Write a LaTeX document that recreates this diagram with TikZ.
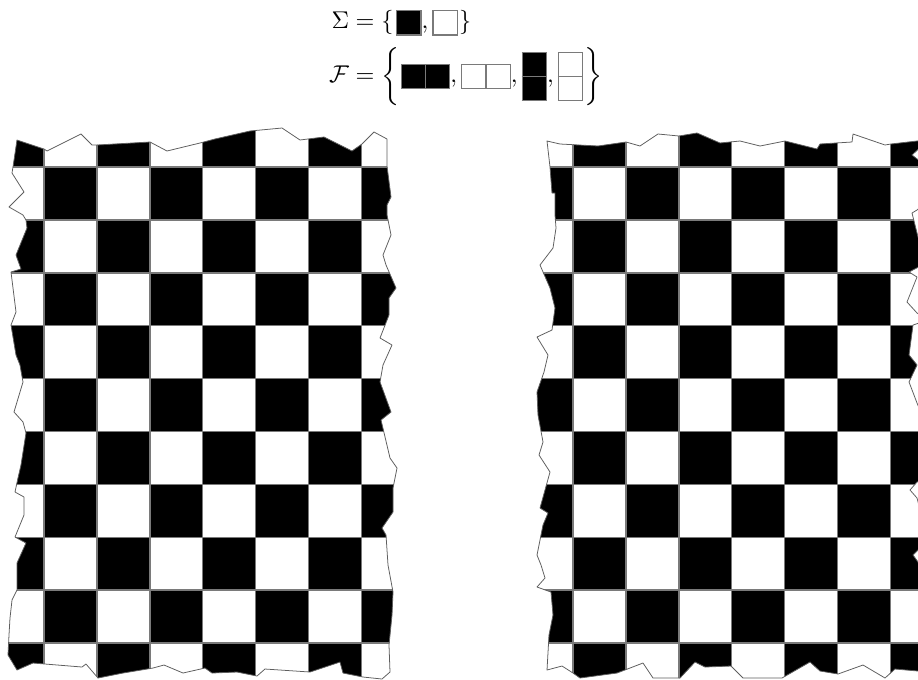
\documentclass[tikz,border=0pt]{standalone}
\usepackage{amsmath}
\usepackage{graphicx}
\usetikzlibrary{calc}
\definecolor{gridGrey}{HTML}{7A7A7A}
\definecolor{edgeGrey}{HTML}{5E5E5E}
\tikzset{
  darkcell/.style = {fill=black},
  gridline/.style = {gridGrey, line width=0.65pt},
  tornedge/.style = {edgeGrey, line width=0.35pt, line join=round},
  formula/.style  = {inner sep=0pt},
}
% one tile of the alphabet, and the two dominoes
\newcommand{\sqbox}[1]{{\setlength{\fboxsep}{0pt}\setlength{\fboxrule}{0.5pt}%
  \fcolorbox{gridGrey}{#1}{\rule{0pt}{9.5pt}\rule{9.5pt}{0pt}}}}
\newcommand{\cellsq}[1]{\vcenter{\hbox{\sqbox{#1}}}}
\newcommand{\cellpairh}[1]{\vcenter{\hbox{\sqbox{#1}\kern-0.5pt\sqbox{#1}}}}
\newcommand{\cellpairv}[1]{\vcenter{\offinterlineskip\hbox{\sqbox{#1}}\kern-0.5pt\hbox{\sqbox{#1}}}}
% torn outlines of the two boards
\newcommand{\leftboard}{(17,140) -- (44,149) -- (47,151) -- (81,134) -- (92,145) -- (97,145) -- (150,142) -- (167,151) -- (200,143) -- (215,139) -- (250,131) -- (282,128) -- (300,140) -- (308,139) -- (324,137) -- (352,151) -- (362,144) -- (374,132) -- (387,139) -- (387,166) -- (391,197) -- (387,205) -- (387,215) -- (391,235) -- (383,255) -- (386,265) -- (396,288) -- (389,298) -- (389,315) -- (380,338) -- (392,345) -- (383,365) -- (380,382) -- (391,412) -- (381,420) -- (390,458) -- (397,468) -- (393,488) -- (393,512) -- (382,528) -- (386,535) -- (388,565) -- (393,592) -- (392,615) -- (389,645) -- (390,672) -- (382,679) -- (363,677) -- (343,673) -- (340,662) -- (310,672) -- (265,669) -- (257,676) -- (237,672) -- (212,673) -- (205,668) -- (183,673) -- (164,665) -- (153,668) -- (123,673) -- (98,678) -- (86,664) -- (82,667) -- (45,664) -- (33,663) -- (17,670) -- (8,655) -- (9,635) -- (10,618) -- (12,600) -- (17,590) -- (17,563) -- (26,543) -- (15,537) -- (24,515) -- (24,497) -- (15,492) -- (18,478) -- (21,465) -- (26,433) -- (23,422) -- (14,412) -- (23,382) -- (20,365) -- (16,355) -- (11,325) -- (16,312) -- (11,272) -- (21,269) -- (16,255) -- (27,228) -- (26,220) -- (23,215) -- (9,207) -- (24,192) -- (12,173) -- (13,167) -- cycle}
\newcommand{\rightboard}{(547,141) -- (560,144) -- (598,146) -- (626,142) -- (640,146) -- (658,134) -- (679,136) -- (697,133) -- (720,143) -- (740,141) -- (760,146) -- (785,141) -- (817,149) -- (820,144) -- (852,142) -- (853,134) -- (885,145) -- (891,144) -- (917,141) -- (928,140) -- (912,155) -- (921,162) -- (928,200) -- (917,210) -- (912,213) -- (918,237) -- (928,262) -- (909,272) -- (917,277) -- (907,302) -- (917,313) -- (928,320) -- (913,325) -- (909,355) -- (917,365) -- (909,382) -- (917,403) -- (928,430) -- (928,478) -- (917,482) -- (910,490) -- (917,498) -- (928,540) -- (913,555) -- (918,562) -- (928,600) -- (928,668) -- (918,671) -- (895,669) -- (885,678) -- (863,665) -- (838,674) -- (820,671) -- (810,662) -- (782,678) -- (743,678) -- (731,666) -- (705,667) -- (695,662) -- (680,678) -- (653,678) -- (643,663) -- (617,673) -- (580,678) -- (573,673) -- (562,666) -- (547,670) -- (549,635) -- (553,615) -- (551,592) -- (537,587) -- (545,578) -- (541,565) -- (537,555) -- (543,525) -- (548,513) -- (540,508) -- (550,472) -- (539,455) -- (543,442) -- (538,415) -- (537,392) -- (544,372) -- (548,355) -- (537,337) -- (552,330) -- (555,308) -- (550,288) -- (540,265) -- (553,248) -- (556,228) -- (555,215) -- (555,193) -- (552,193) -- (550,167) -- cycle}

\begin{document}
\begin{tikzpicture}[x=0.45pt, y=-0.45pt]
  \useasboundingbox (0,0) rectangle (918,679);

  \node[formula] (sets) at (466,57) {\scalebox{1.09}{$\begin{aligned}
      \Sigma &= \{\mkern2mu\cellsq{black}, \cellsq{white}\mkern1mu\}\\
      \mathcal{F} &= \left\{\mkern1mu\cellpairh{black}, \cellpairh{white}, \cellpairv{black}, \cellpairv{white}\mkern1mu\right\}
    \end{aligned}$}};

  % left board : dark where i+j is even
  \begin{scope}
    \clip \leftboard;
    \foreach \i in {0,...,7} {
      \foreach \j in {0,...,10} {
        \pgfmathparse{int(mod(\i+\j,2))}
        \ifnum\pgfmathresult=0
          \fill[darkcell] ({-8.9+\i*52.9},{114.1+\j*52.9}) rectangle ++(52.9,52.9);
        \fi
      }
    }
    \foreach \i in {1,...,7} \draw[gridline] ({-8.9+\i*52.9},100) -- ++(0,600);
    \foreach \j in {1,...,10} \draw[gridline] (-20,{114.1+\j*52.9}) -- ++(440,0);
  \end{scope}
  \draw[tornedge] \leftboard;

  % right board : dark where i+j is odd
  \begin{scope}
    \clip \rightboard;
    \foreach \i in {0,...,7} {
      \foreach \j in {0,...,10} {
        \pgfmathparse{int(mod(\i+\j,2))}
        \ifnum\pgfmathresult=1
          \fill[darkcell] ({520.1+\i*52.9},{114.1+\j*52.9}) rectangle ++(52.9,52.9);
        \fi
      }
    }
    \foreach \i in {1,...,7} \draw[gridline] ({520.1+\i*52.9},100) -- ++(0,600);
    \foreach \j in {1,...,10} \draw[gridline] (500,{114.1+\j*52.9}) -- ++(440,0);
  \end{scope}
  \draw[tornedge] \rightboard;
\end{tikzpicture}
\end{document}
